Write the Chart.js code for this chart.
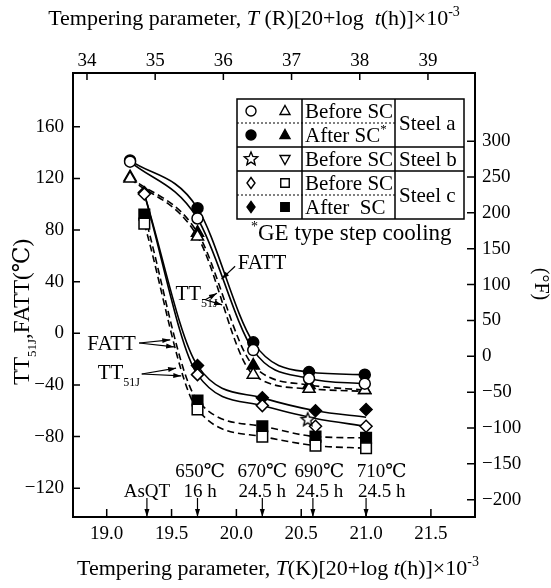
<!DOCTYPE html>
<html>
<head>
<meta charset="utf-8">
<script src="https://cdn.jsdelivr.net/npm/chart.js@4.4.1/dist/chart.umd.min.js"></script>
<style>
  html, body { margin: 0; padding: 0; background: #fff; }
</style>
</head>
<body>
<canvas id="chart" width="551" height="588"></canvas>
<script>
// Valores
const kTicks = [19.0, 19.5, 20.0, 20.5, 21.0, 21.5];
const rTicks = [34, 35, 36, 37, 38, 39];
const cTicks = [-120, -80, -40, 0, 40, 80, 120, 160];
const fTicks = [-200, -150, -100, -50, 0, 50, 100, 150, 200, 250, 300];

// Steel a
const aX = [19.18, 19.70, 20.13, 20.56, 20.99];
const aFattBefore = [133, 89, -13, -35, -39];
const aFattAfter = [134, 97, -7, -30, -32];
const aTTBefore = [120, 75, -32, -43, -44];
const aTTAfter = [121, 78, -25, -40, -44];
// Steel b
const bX = [20.55];
const bFattBefore = [-67];
// Steel c
const cX = [19.29, 19.70, 20.20, 20.61, 21.00];
const cFattBefore = [108, -32, -56, -72, -72];
const cFattAfter = [109, -25, -50, -60, -59];
const cTTBefore = [85, -59, -80, -87, -89];
const cTTAfter = [92, -52, -72, -80, -81];

// curvas trazadas a mano en la figura
const aFattBeforeFit = [133, 89, -13, -35, -39];
const aFattAfterFit = [134, 97, -7, -30, -32];
const aTTBeforeFit = [120, 75, -32, -43, -45];
const aTTAfterFit = [121, 78, -25, -40, -44];
const cFattBeforeFit = [108, -32, -56, -66, -72];
const cFattAfterFit = [108, -25, -50, -60, -65];
const cTTBeforeFit = [85, -59, -80, -87, -89];
const cTTAfterFit = [92, -52, -72, -80, -81];

// condiciones de revenido (flechas del eje inferior)
const condX = [19.31, 19.70, 20.20, 20.59, 21.00];
const condLabelX = [19.31, 19.72, 20.20, 20.64, 21.12];
const condTemp = ['', '650℃', '670℃', '690℃', '710℃'];
const condTime = ['AsQT', '16 h', '24.5 h', '24.5 h', '24.5 h'];

const SERIF = '"Liberation Serif", "DejaVu Serif", serif';
const C_MIN = -142.3, C_MAX = 201.7;

const pts = (xs, ys) => xs.map((v, i) => ({x: v, y: ys[i]}));

function makeStar(r) {
    const c = document.createElement('canvas');
    const s = Math.ceil(r * 2 + 4);
    c.width = c.height = s;
    const g = c.getContext('2d');
    g.beginPath();
    for (let i = 0; i < 10; i++) {
        const rr = i % 2 ? r * 0.45 : r;
        const a = -Math.PI / 2 + i * Math.PI / 5;
        g.lineTo(s / 2 + rr * Math.cos(a), s / 2 + rr * Math.sin(a));
    }
    g.closePath();
    g.fillStyle = '#fff';
    g.fill();
    g.lineWidth = 1.4;
    g.strokeStyle = '#000';
    g.stroke();
    return c;
}
const starImg = makeStar(7);

function marks(label, xs, ys, style, filled, size) {
    return {
        label: label,
        data: pts(xs, ys),
        showLine: false,
        pointStyle: style,
        pointRadius: size,
        pointBorderWidth: 1.5,
        pointBorderColor: '#000',
        pointBackgroundColor: filled ? '#000' : '#fff',
        order: filled ? 5 : 1
    };
}

function curve(label, xs, ys, dashed) {
    return {
        label: label,
        data: pts(xs, ys),
        showLine: true,
        pointRadius: 0,
        borderColor: '#000',
        borderWidth: 1.6,
        borderDash: dashed ? [7, 4] : [],
        tension: 0.4,
        cubicInterpolationMode: 'monotone',
        order: 10
    };
}

// texto con cursiva, superíndice y subíndice
function richText(ctx, parts, x, y, size, align) {
    const fontOf = s => (s === 'i' ? 'italic ' : '') +
        Math.round(s === 'sup' ? size * 0.62 : (s === 'sub' ? size * 0.55 : size)) + 'px ' + SERIF;
    let w = 0;
    parts.forEach(([t, s]) => { ctx.font = fontOf(s); w += ctx.measureText(t).width; });
    let cx = align === 'center' ? x - w / 2 : (align === 'right' ? x - w : x);
    ctx.textAlign = 'left';
    ctx.textBaseline = 'alphabetic';
    parts.forEach(([t, s]) => {
        ctx.font = fontOf(s);
        const dy = s === 'sup' ? -size * 0.42 : (s === 'sub' ? size * 0.32 : 0);
        ctx.fillText(t, cx, y + dy);
        cx += ctx.measureText(t).width;
    });
    return w;
}

function drawMark(ctx, kind, x, y, r, filled) {
    ctx.beginPath();
    if (kind === 'circle') {
        ctx.arc(x, y, r, 0, Math.PI * 2);
    } else if (kind === 'triangle' || kind === 'invtri') {
        const d = kind === 'triangle' ? 1 : -1;
        ctx.moveTo(x, y - d * r * 1.1);
        ctx.lineTo(x + r, y + d * r * 0.7);
        ctx.lineTo(x - r, y + d * r * 0.7);
        ctx.closePath();
    } else if (kind === 'square') {
        ctx.rect(x - r * 0.85, y - r * 0.85, r * 1.7, r * 1.7);
    } else if (kind === 'diamond') {
        ctx.moveTo(x, y - r * 1.1); ctx.lineTo(x + r * 0.8, y);
        ctx.lineTo(x, y + r * 1.1); ctx.lineTo(x - r * 0.8, y);
        ctx.closePath();
    } else if (kind === 'star') {
        ctx.drawImage(starImg, x - starImg.width / 2, y - starImg.height / 2);
        return;
    }
    ctx.fillStyle = filled ? '#000' : '#fff';
    ctx.fill();
    ctx.lineWidth = 1.4;
    ctx.stroke();
}

function arrow(ctx, x1, y1, x2, y2) {
    const a = Math.atan2(y2 - y1, x2 - x1);
    ctx.beginPath();
    ctx.moveTo(x1, y1);
    ctx.lineTo(x2, y2);
    ctx.stroke();
    ctx.beginPath();
    ctx.moveTo(x2, y2);
    ctx.lineTo(x2 - 8 * Math.cos(a) + 2.5 * Math.sin(a), y2 - 8 * Math.sin(a) - 2.5 * Math.cos(a));
    ctx.lineTo(x2 - 8 * Math.cos(a) - 2.5 * Math.sin(a), y2 - 8 * Math.sin(a) + 2.5 * Math.cos(a));
    ctx.closePath();
    ctx.fill();
}

// etiquetas con flecha, en unidades de datos (x en K-parámetro, y en ℃)
const notes = [
    {parts: [['FATT', '']], at: [20.01, 55], from: [19.99, 52], to: [[19.885, 42]]},
    {parts: [['TT', ''], ['51J', 'sub']], at: [19.53, 31], from: [19.76, 26], to: [[19.85, 31], [19.89, 22]]},
    {parts: [['FATT', '']], at: [18.85, -7.5], from: [19.25, -7.5], to: [[19.49, -5], [19.52, -10.5]]},
    {parts: [['TT', ''], ['51J', 'sub']], at: [18.93, -30], from: [19.27, -31.5], to: [[19.535, -27], [19.575, -33]]}
];

const legendRows = [
    {m: [['circle', false], ['triangle', false]], t: 'Before SC'},
    {m: [['circle', true], ['triangle', true]], t: 'After SC', star: true},
    {m: [['star', false], ['invtri', false]], t: 'Before SC'},
    {m: [['diamond', false], ['square', false]], t: 'Before SC'},
    {m: [['diamond', true], ['square', true]], t: 'After  SC'}
];
const steelNames = [['Steel a', 0, 2], ['Steel b', 2, 1], ['Steel c', 3, 2]];

const decor = {
    id: 'decor',
    afterDraw(chart) {
        const ctx = chart.ctx;
        const area = chart.chartArea;
        const sx = chart.scales.x, sy = chart.scales.y, sx2 = chart.scales.x2, sy2 = chart.scales.y2;
        const P = (xv, yv) => [sx.getPixelForValue(xv), sy.getPixelForValue(yv)];
        ctx.save();
        ctx.strokeStyle = '#000';
        ctx.fillStyle = '#000';

        // marcas de escala hacia dentro
        ctx.lineWidth = 1.5;
        ctx.beginPath();
        sx.ticks.forEach(t => { const p = sx.getPixelForValue(t.value); ctx.moveTo(p, area.bottom); ctx.lineTo(p, area.bottom - 8); });
        sx2.ticks.forEach(t => { const p = sx2.getPixelForValue(t.value); ctx.moveTo(p, area.top); ctx.lineTo(p, area.top + 7); });
        sy.ticks.forEach(t => { const p = sy.getPixelForValue(t.value); ctx.moveTo(area.left, p); ctx.lineTo(area.left + 7, p); });
        sy2.ticks.forEach(t => { const p = sy2.getPixelForValue(t.value); ctx.moveTo(area.right, p); ctx.lineTo(area.right - 8, p); });
        ctx.stroke();

        // títulos de ejes
        richText(ctx, [['Tempering parameter, ', ''], ['T', 'i'], [' (R)[20+log  ', ''], ['t', 'i'], ['(h)]×10', ''], ['-3', 'sup']], 254, 25, 22, 'center');
        richText(ctx, [['Tempering parameter, ', ''], ['T', 'i'], ['(K)[20+log ', ''], ['t', 'i'], ['(h)]×10', ''], ['-3', 'sup']], 278, 575, 22, 'center');
        ctx.save();
        ctx.translate(21, 312);
        ctx.rotate(-Math.PI / 2);
        richText(ctx, [['TT', ''], ['51J', 'sub'], [',FATT(℃)', '']], 0, 8, 23, 'center');
        ctx.restore();
        ctx.save();
        ctx.translate(542, 284);
        ctx.rotate(Math.PI / 2);
        richText(ctx, [['(°F)', '']], 0, 7, 20, 'center');
        ctx.restore();

        // leyenda en forma de tabla
        const L = {x0: 237, x1: 302, x2: 395, x3: 464, y0: 99, h: 24};
        const yb = L.y0 + L.h * 5;
        ctx.lineWidth = 1.5;
        ctx.fillStyle = '#fff';
        ctx.fillRect(L.x0, L.y0, L.x3 - L.x0, yb - L.y0);
        ctx.fillStyle = '#000';
        ctx.strokeRect(L.x0, L.y0, L.x3 - L.x0, yb - L.y0);
        ctx.beginPath();
        ctx.moveTo(L.x1, L.y0); ctx.lineTo(L.x1, yb);
        ctx.moveTo(L.x2, L.y0); ctx.lineTo(L.x2, yb);
        [2, 3].forEach(r => { ctx.moveTo(L.x0, L.y0 + r * L.h); ctx.lineTo(L.x3, L.y0 + r * L.h); });
        ctx.stroke();
        ctx.save();
        ctx.lineWidth = 1;
        ctx.setLineDash([2, 2]);
        ctx.beginPath();
        [1, 4].forEach(r => { ctx.moveTo(L.x0, L.y0 + r * L.h); ctx.lineTo(L.x2, L.y0 + r * L.h); });
        ctx.stroke();
        ctx.restore();
        legendRows.forEach((row, i) => {
            const cy = L.y0 + L.h * (i + 0.5);
            drawMark(ctx, row.m[0][0], 251, cy, 5, row.m[0][1]);
            drawMark(ctx, row.m[1][0], 285, cy, 5, row.m[1][1]);
            ctx.fillStyle = '#000';
            const parts = [[row.t, '']];
            if (row.star) parts.push(['*', 'sup']);
            richText(ctx, parts, L.x1 + 3, cy + 7, 20.5, 'left');
        });
        steelNames.forEach(([name, r0, n]) => {
            richText(ctx, [[name, '']], L.x2 + 4, L.y0 + L.h * (r0 + n / 2) + 7, 20.5, 'left');
        });
        richText(ctx, [['*', 'sup'], ['GE type step cooling', '']], 251, 240, 22.5, 'left');

        // etiquetas FATT / TT51J con flechas
        ctx.lineWidth = 1.2;
        notes.forEach(n => {
            const [tx, ty] = P(n.at[0], n.at[1]);
            richText(ctx, n.parts, tx, ty + 7, 21, 'left');
            const [fx, fy] = P(n.from[0], n.from[1]);
            n.to.forEach(t => {
                const [ex, ey] = P(t[0], t[1]);
                arrow(ctx, fx, fy, ex, ey);
            });
        });

        // condiciones de revenido sobre el eje inferior
        condX.forEach((v, i) => {
            const px = sx.getPixelForValue(v);
            arrow(ctx, px, area.bottom - 19, px, area.bottom);
            const lx = sx.getPixelForValue(condLabelX[i]);
            if (condTemp[i]) richText(ctx, [[condTemp[i], '']], lx, area.bottom - 40, 19, 'center');
            richText(ctx, [[condTime[i], '']], lx, area.bottom - 20, 19, 'center');
        });
        ctx.restore();
    }
};

const fmtMinus = v => (v < 0 ? '\u2212' + (-v) : '' + v);

new Chart(document.getElementById('chart'), {
    type: 'scatter',
    data: {
        datasets: [
            marks('Steel a FATT before SC', aX, aFattBefore, 'circle', false, 5.5),
            marks('Steel a TT51J before SC', aX, aTTBefore, 'triangle', false, 7),
            marks('Steel b FATT before SC', bX, bFattBefore, starImg, false, 7),
            marks('Steel c FATT before SC', cX, cFattBefore, 'rectRot', false, 6),
            marks('Steel c TT51J before SC', cX, cTTBefore, 'rect', false, 7.5),
            marks('Steel a FATT after SC', aX, aFattAfter, 'circle', true, 5.5),
            marks('Steel a TT51J after SC', aX, aTTAfter, 'triangle', true, 7),
            marks('Steel c FATT after SC', cX, cFattAfter, 'rectRot', true, 6),
            marks('Steel c TT51J after SC', cX, cTTAfter, 'rect', true, 7.5),
            curve('a FATT before', aX, aFattBeforeFit, false),
            curve('a FATT after', aX, aFattAfterFit, false),
            curve('a TT before', aX, aTTBeforeFit, true),
            curve('a TT after', aX, aTTAfterFit, true),
            curve('c FATT before', cX, cFattBeforeFit, false),
            curve('c FATT after', cX, cFattAfterFit, false),
            curve('c TT before', cX, cTTBeforeFit, true),
            curve('c TT after', cX, cTTAfterFit, true)
        ]
    },
    options: {
        responsive: false,
        animation: false,
        devicePixelRatio: 1,
        layout: { padding: 0 },
        plugins: { legend: { display: false }, tooltip: { enabled: false } },
        scales: {
            x: {
                type: 'linear', position: 'bottom', min: 18.74, max: 21.84,
                afterBuildTicks: s => { s.ticks = kTicks.map(v => ({value: v})); },
                afterFit: s => { s.height = 71; },
                grid: { display: false, drawTicks: false },
                border: { display: true, color: '#000', width: 2 },
                ticks: { padding: 6, color: '#000', font: { family: SERIF, size: 19 }, callback: v => v.toFixed(1) }
            },
            x2: {
                type: 'linear', position: 'top', min: 33.795, max: 39.69,
                afterBuildTicks: s => { s.ticks = rTicks.map(v => ({value: v})); },
                afterFit: s => { s.height = 73; },
                grid: { display: false, drawTicks: false },
                border: { display: true, color: '#000', width: 2 },
                ticks: { padding: 1, color: '#000', font: { family: SERIF, size: 19 } }
            },
            y: {
                type: 'linear', position: 'left', min: C_MIN, max: C_MAX,
                afterBuildTicks: s => { s.ticks = cTicks.map(v => ({value: v})); },
                afterFit: s => { s.width = 73; },
                grid: { display: false, drawTicks: false },
                border: { display: true, color: '#000', width: 2 },
                ticks: { padding: 9, color: '#000', font: { family: SERIF, size: 19 }, callback: fmtMinus }
            },
            y2: {
                type: 'linear', position: 'right', min: C_MIN * 1.8 + 32, max: C_MAX * 1.8 + 32,
                afterBuildTicks: s => { s.ticks = fTicks.map(v => ({value: v})); },
                afterFit: s => { s.width = 76; },
                grid: { display: false, drawTicks: false },
                border: { display: true, color: '#000', width: 2 },
                ticks: { padding: 7, color: '#000', font: { family: SERIF, size: 19 }, callback: fmtMinus }
            }
        }
    },
    plugins: [decor]
});
</script>
</body>
</html>
